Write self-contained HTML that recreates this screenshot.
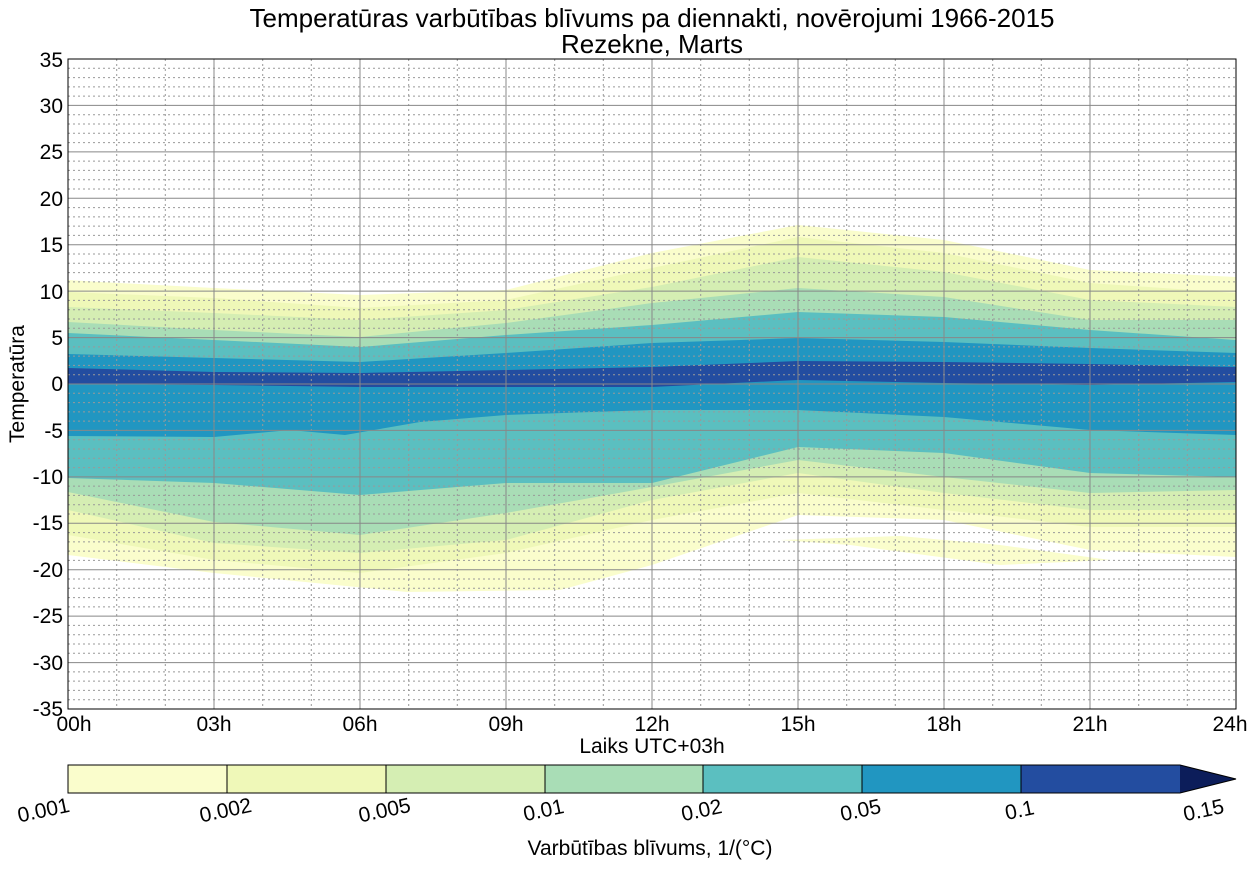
<!DOCTYPE html>
<html><head><meta charset="utf-8"><style>
body{margin:0;background:#fff;}
svg text{font-family:"Liberation Sans",Arial,sans-serif;fill:#000;}
</style></head><body>
<svg width="1260" height="868" viewBox="0 0 1260 868" xmlns="http://www.w3.org/2000/svg">
<rect width="1260" height="868" fill="#fff"/>
<text x="652" y="27" font-size="26" text-anchor="middle">Temperatūras varbūtības blīvums pa diennakti, novērojumi 1966-2015</text>
<text x="652" y="53" font-size="26" text-anchor="middle">Rezekne, Marts</text>
<defs><clipPath id="c"><rect x="68" y="59" width="1168" height="650"/></clipPath></defs>
<g clip-path="url(#c)">
<polygon fill="#fafdcc" points="68,280 100,282 214,288 360,295 506,290 652,253 798,225 944,240 1090,270 1236,277 1236,557 1090,550 944,520 798,515 652,565 560,590 407,592 214,573 68,555"/>
<polygon fill="#fafdcc" points="780,540 900,536 1000,545 1110,560 1000,565 850,545"/>
<polygon fill="#eff8b8" points="68,292 214,298 360,308 506,300 652,268 798,237 944,253 1090,283 1236,293 1236,527 1090,527 944,510 798,493 652,520 506,553 360,573 214,560 68,535"/>
<polygon fill="#d5eeb3" points="68,307 214,313 360,320 506,310 652,287 798,257 944,272 1090,300 1236,307 1236,510 1090,510 944,493 798,473 652,500 506,540 360,553 214,543 68,510"/>
<polygon fill="#a9ddb6" points="68,322 214,330 360,337 506,323 652,303 798,288 944,297 1090,320 1236,320 1236,490 1090,493 944,477 798,460 652,487 506,513 360,535 214,522 68,492"/>
<polygon fill="#5bbfc0" points="68,333 214,340 360,347 506,335 652,325 798,312 944,317 1090,330 1236,340 1236,477 1090,473 944,453 798,447 652,483 506,483 360,495 214,483 68,478"/>
<polygon fill="#2196c1" points="68,354 214,358 360,362 506,353 652,343 798,338 944,342 1090,348 1236,353 1236,435 1090,430 944,417 798,410 652,410 506,415 420,422 345,435 290,430 214,437 68,436"/>
<polygon fill="#234da0" points="68,368 214,372 360,373 506,370 652,367 798,361 944,362 1090,364 1236,367 1236,382 1090,385 944,383 798,380 652,387 506,387 360,387 214,385 68,384"/>
</g>
<g stroke="#999" stroke-width="1" stroke-dasharray="2,3" fill="none">
<path d="M68,68.3H1236M68,77.6H1236M68,86.9H1236M68,96.1H1236M68,114.7H1236M68,124H1236M68,133.3H1236M68,142.6H1236M68,161.1H1236M68,170.4H1236M68,179.7H1236M68,189H1236M68,207.6H1236M68,216.9H1236M68,226.1H1236M68,235.4H1236M68,254H1236M68,263.3H1236M68,272.6H1236M68,281.9H1236M68,300.4H1236M68,309.7H1236M68,319H1236M68,328.3H1236M68,346.9H1236M68,356.1H1236M68,365.4H1236M68,374.7H1236M68,393.3H1236M68,402.6H1236M68,411.9H1236M68,421.1H1236M68,439.7H1236M68,449H1236M68,458.3H1236M68,467.6H1236M68,486.1H1236M68,495.4H1236M68,504.7H1236M68,514H1236M68,532.6H1236M68,541.9H1236M68,551.1H1236M68,560.4H1236M68,579H1236M68,588.3H1236M68,597.6H1236M68,606.9H1236M68,625.4H1236M68,634.7H1236M68,644H1236M68,653.3H1236M68,671.9H1236M68,681.1H1236M68,690.4H1236M68,699.7H1236"/>
<path d="M116.7,59V709M165.3,59V709M262.7,59V709M311.3,59V709M408.7,59V709M457.3,59V709M554.7,59V709M603.3,59V709M700.7,59V709M749.3,59V709M846.7,59V709M895.3,59V709M992.7,59V709M1041.3,59V709M1138.7,59V709M1187.3,59V709"/>
</g>
<g stroke="#888" stroke-width="1" fill="none">
<path d="M68,105.4H1236M68,151.9H1236M68,198.3H1236M68,244.7H1236M68,291.1H1236M68,337.6H1236M68,384H1236M68,430.4H1236M68,476.9H1236M68,523.3H1236M68,569.7H1236M68,616.1H1236M68,662.6H1236"/>
<path d="M214,59V709M360,59V709M506,59V709M652,59V709M798,59V709M944,59V709M1090,59V709"/>
</g>
<rect x="68" y="59" width="1168" height="650" fill="none" stroke="#000" stroke-width="1"/>
<g font-size="21" text-anchor="end">
<text x="63" y="67">35</text><text x="63" y="113">30</text><text x="63" y="159">25</text><text x="63" y="206">20</text><text x="63" y="252">15</text><text x="63" y="299">10</text><text x="63" y="345">5</text><text x="63" y="391">0</text><text x="63" y="438">-5</text><text x="63" y="484">-10</text><text x="63" y="530">-15</text><text x="63" y="577">-20</text><text x="63" y="623">-25</text><text x="63" y="670">-30</text><text x="63" y="716">-35</text>
</g>
<g font-size="21" text-anchor="middle">
<text x="74" y="731">00h</text><text x="214" y="731">03h</text><text x="360" y="731">06h</text><text x="506" y="731">09h</text><text x="652" y="731">12h</text><text x="798" y="731">15h</text><text x="944" y="731">18h</text><text x="1090" y="731">21h</text><text x="1230" y="731">24h</text>
</g>
<text x="652" y="753" font-size="21" text-anchor="middle">Laiks UTC+03h</text>
<text transform="translate(24,384) rotate(-90)" font-size="21" text-anchor="middle">Temperatūra</text>
<rect x="68" y="765" width="159" height="28" fill="#fafdcc"/>
<rect x="227" y="765" width="159" height="28" fill="#eff8b8"/>
<rect x="386" y="765" width="159" height="28" fill="#d5eeb3"/>
<rect x="545" y="765" width="158" height="28" fill="#a9ddb6"/>
<rect x="703" y="765" width="159" height="28" fill="#5bbfc0"/>
<rect x="862" y="765" width="159" height="28" fill="#2196c1"/>
<rect x="1021" y="765" width="159" height="28" fill="#234da0"/>
<polygon points="1180,765 1236,779 1180,793" fill="#0c1d5a"/>
<g stroke="#000" stroke-width="1" fill="none">
<polygon points="68,765 1180,765 1236,779 1180,793 68,793"/>
<path d="M227,765V793M386,765V793M545,765V793M703,765V793M862,765V793M1021,765V793"/>
</g>
<g font-size="21" text-anchor="middle">
<text transform="translate(45,817) rotate(-12)">0.001</text>
<text transform="translate(227,817) rotate(-12)">0.002</text>
<text transform="translate(386,817) rotate(-12)">0.005</text>
<text transform="translate(545,817) rotate(-12)">0.01</text>
<text transform="translate(703,817) rotate(-12)">0.02</text>
<text transform="translate(862,817) rotate(-12)">0.05</text>
<text transform="translate(1021,817) rotate(-12)">0.1</text>
<text transform="translate(1205,817) rotate(-12)">0.15</text>
</g>
<text x="650" y="855" font-size="21" text-anchor="middle">Varbūtības blīvums, 1/(°C)</text>
</svg>
</body></html>
